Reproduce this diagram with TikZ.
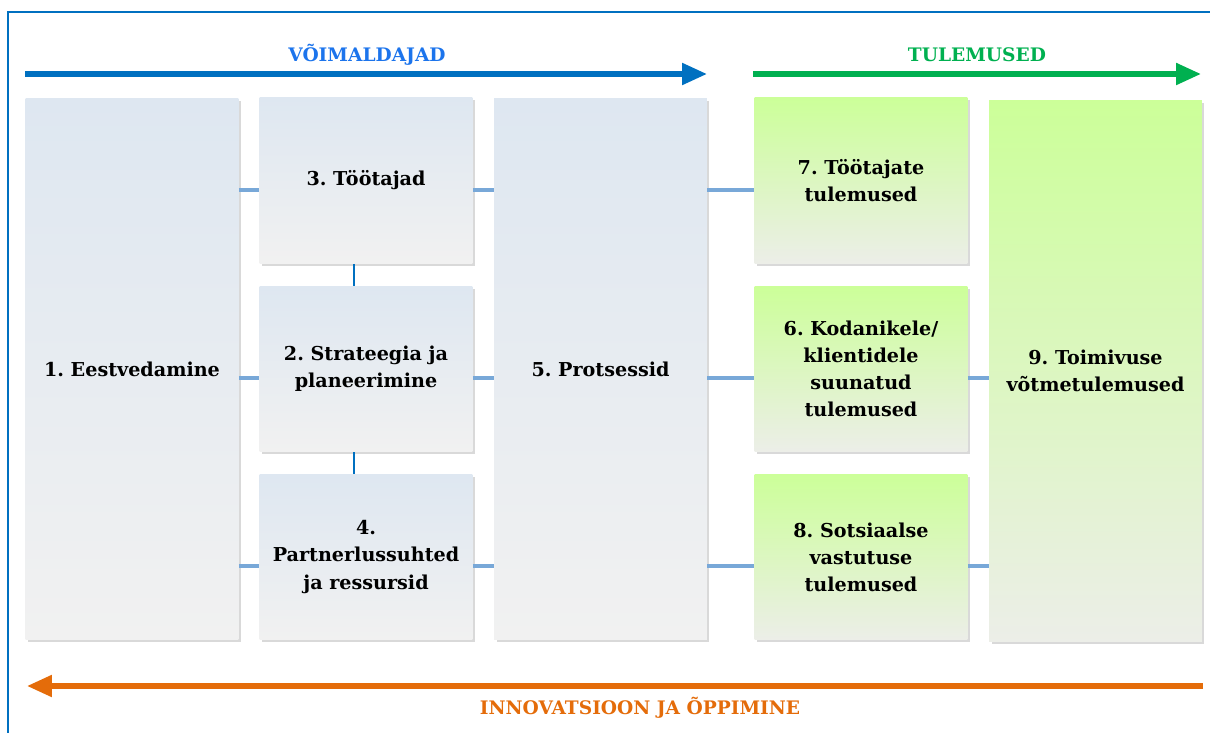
\documentclass[tikz,border=0pt]{standalone}
\usepackage{fontspec}
\setmainfont{DejaVu Serif}
\frenchspacing
\usetikzlibrary{arrows.meta,shadows}

\definecolor{frameblue}{RGB}{0,112,192}
\definecolor{headblue}{RGB}{28,116,236}
\definecolor{headgreen}{RGB}{0,176,80}
\definecolor{headorange}{RGB}{228,108,10}
\definecolor{linkblue}{RGB}{120,168,216}
\definecolor{boxtopblue}{RGB}{222,231,241}
\definecolor{boxbottomgrey}{RGB}{241,241,241}
\definecolor{boxtopgreen}{RGB}{204,255,153}
\definecolor{boxbottomgreen}{RGB}{236,238,232}

\tikzset{
    box/.style={minimum width=4.26cm, inner sep=0pt, align=center,
        font=\fontsize{10.9}{15.4}\selectfont\bfseries,
        drop shadow={shadow xshift=0.05cm, shadow yshift=-0.05cm, opacity=0.25, fill=black!60}},
    bluebox/.style={box, top color=boxtopblue, bottom color=boxbottomgrey},
    greenbox/.style={box, top color=boxtopgreen, bottom color=boxbottomgreen},
    tallbox/.style={minimum height=10.84cm},
    smallbox/.style={minimum height=3.32cm},
    link/.style={linkblue, line width=2.2pt},
    vlink/.style={frameblue, line width=1.2pt},
    bigarrow/.style={line width=3pt, -{Triangle[length=0.5cm, width=0.42cm]}},
    heading/.style={font=\fontsize{10.6}{12}\selectfont\bfseries}
}

\begin{document}
\begin{tikzpicture}[x=0.02cm, y=-0.02cm]
    \useasboundingbox (0,0) rectangle (1210,733);

    % frame
    \draw[frameblue, line width=1.2pt] (8,733)--(8,12)--(1210,12);

    % headings
    \coordinate (vstart) at (25,74);
    \coordinate (vend) at (707,74);
    \coordinate (tstart) at (753,74);
    \coordinate (tend) at (1201,74);
    \coordinate (istart) at (1203,686);
    \coordinate (iend) at (27,686);
    \draw[bigarrow, frameblue] (vstart) -- (vend);
    \draw[bigarrow, headgreen] (tstart) -- (tend);
    \draw[bigarrow, headorange] (istart) -- (iend);
    \node[heading, headblue] (voim) at (367,55) {VÕIMALDAJAD};
    \node[heading, headgreen] (tul) at (977,55) {TULEMUSED};
    \node[heading, headorange] (innov) at (640,708) {INNOVATSIOON JA ÕPPIMINE};

    % boxes
    \node[bluebox, tallbox] (b1) at (132,369) {1. Eestvedamine};
    \node[bluebox, smallbox] (b3) at (366,180.5) {3. Töötajad};
    \node[bluebox, smallbox] (b2) at (366,369) {2. Strateegia ja\\planeerimine};
    \node[bluebox, smallbox] (b4) at (366,557) {4.\\Partnerlussuhted\\ja ressursid};
    \node[bluebox, tallbox] (b5) at (600.5,369) {5. Protsessid};
    \node[greenbox, smallbox] (b7) at (861,180.5) {7. Töötajate\\tulemused};
    \node[greenbox, smallbox] (b6) at (861,369) {6. Kodanikele/\\klientidele\\suunatud\\tulemused};
    \node[greenbox, smallbox] (b8) at (861,557) {8. Sotsiaalse\\vastutuse\\tulemused};
    \node[greenbox, tallbox] (b9) at (1095.5,371) {9. Toimivuse\\võtmetulemused};

    % connectors
    \draw[link] (b1.east |- b3.185) -- (b3.185);
    \draw[link] (b3.355) -- (b5.west |- b3.355);
    \draw[link] (b5.east |- b7.185) -- (b7.185);

    \draw[link] (b1.east |- b2.185) -- (b2.185);
    \draw[link] (b2.355) -- (b5.west |- b2.355);
    \draw[link] (b5.east |- b6.185) -- (b6.185);
    \draw[link] (b6.355) -- (b9.west |- b6.355);

    \draw[link] (b1.east |- b4.185) -- (b4.185);
    \draw[link] (b4.355) -- (b5.west |- b4.355);
    \draw[link] (b5.east |- b8.185) -- (b8.185);
    \draw[link] (b8.355) -- (b9.west |- b8.355);

    \draw[vlink] (b3.262) -- (b2.north -| b3.262);
    \draw[vlink] (b2.262) -- (b4.north -| b2.262);

\end{tikzpicture}
\end{document}
